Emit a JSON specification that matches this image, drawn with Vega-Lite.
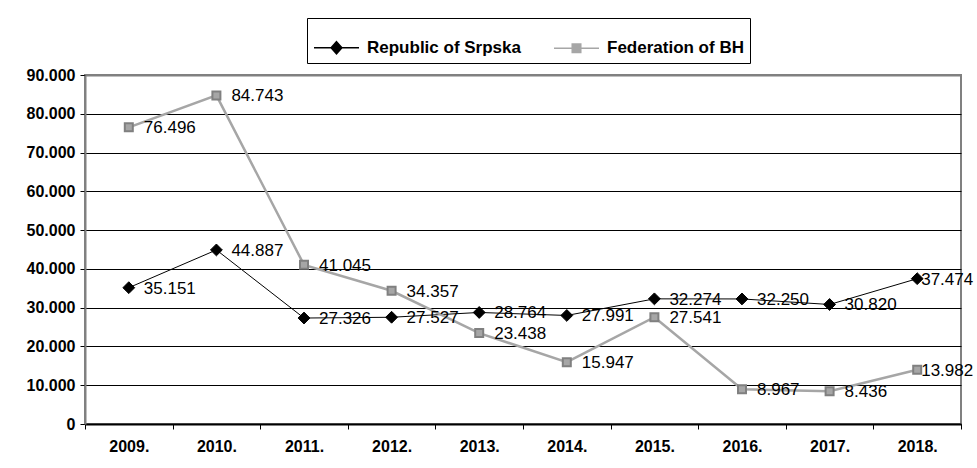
{
  "$schema": "https://vega.github.io/schema/vega-lite/v6.json",
  "width": 876,
  "height": 349,
  "autosize": "none",
  "padding": {"left": 85, "top": 75, "right": 16, "bottom": 44},
  "background": "white",
  "config": {
    "locale": {"number": {"decimal": ",", "thousands": ".", "grouping": [3], "currency": ["", ""]}},
    "font": "Liberation Sans",
    "view": {"stroke": "#808080", "strokeWidth": 2}
  },
  "data": {
    "values": [
      {"year": "2009.", "series": "Republic of Srpska", "value": 35151},
      {"year": "2010.", "series": "Republic of Srpska", "value": 44887},
      {"year": "2011.", "series": "Republic of Srpska", "value": 27326},
      {"year": "2012.", "series": "Republic of Srpska", "value": 27527},
      {"year": "2013.", "series": "Republic of Srpska", "value": 28764},
      {"year": "2014.", "series": "Republic of Srpska", "value": 27991},
      {"year": "2015.", "series": "Republic of Srpska", "value": 32274},
      {"year": "2016.", "series": "Republic of Srpska", "value": 32250},
      {"year": "2017.", "series": "Republic of Srpska", "value": 30820},
      {"year": "2018.", "series": "Republic of Srpska", "value": 37474},
      {"year": "2009.", "series": "Federation of BH", "value": 76496},
      {"year": "2010.", "series": "Federation of BH", "value": 84743},
      {"year": "2011.", "series": "Federation of BH", "value": 41045},
      {"year": "2012.", "series": "Federation of BH", "value": 34357},
      {"year": "2013.", "series": "Federation of BH", "value": 23438},
      {"year": "2014.", "series": "Federation of BH", "value": 15947},
      {"year": "2015.", "series": "Federation of BH", "value": 27541},
      {"year": "2016.", "series": "Federation of BH", "value": 8967},
      {"year": "2017.", "series": "Federation of BH", "value": 8436},
      {"year": "2018.", "series": "Federation of BH", "value": 13982}
    ]
  },
  "encoding": {
    "x": {
      "field": "year", "type": "ordinal", "bandPosition": 0.5,
      "scale": {"type": "band", "paddingInner": 0, "paddingOuter": 0},
      "axis": {
        "title": null, "labelAngle": 0, "tickBand": "extent",
        "domainColor": "#000", "domainWidth": 2, "tickColor": "#000", "tickSize": 5,
        "labelFont": "Liberation Sans", "labelFontSize": 16, "labelFontWeight": "bold",
        "labelColor": "#000", "labelPadding": 9
      }
    },
    "y": {
      "field": "value", "type": "quantitative",
      "scale": {"domain": [0, 90000], "nice": false},
      "axis": {
        "title": null, "format": ",.0f", "values": [0, 10000, 20000, 30000, 40000, 50000, 60000, 70000, 80000, 90000],
        "grid": true,
        "gridColor": {"condition": {"test": "datum.value == 90000", "value": "#808080"}, "value": "#000000"},
        "gridWidth": {"condition": {"test": "datum.value == 90000", "value": 2}, "value": 1},
        "domainColor": "#808080", "domainWidth": 2, "tickColor": "#000", "tickSize": 5,
        "labelFont": "Liberation Sans", "labelFontSize": 16, "labelFontWeight": "bold",
        "labelColor": "#000", "labelPadding": 5
      }
    }
  },
  "layer": [
    {
      "mark": {"type": "line", "strokeWidth": {"expr": "datum.series == 'Federation of BH' ? 2.5 : 1"}},
      "encoding": {
        "color": {
          "field": "series", "type": "nominal",
          "scale": {"domain": ["Republic of Srpska", "Federation of BH"], "range": ["#000000", "#a6a6a6"]},
          "legend": {
            "title": null, "orient": "none", "legendX": 222, "legendY": -57,
            "direction": "horizontal",
            "strokeColor": "#000", "fillColor": "#fff", "padding": 6,
            "symbolSize": 2025, "labelFont": "Liberation Sans", "labelFontSize": 17,
            "labelFontWeight": "bold", "labelColor": "#000", "labelOffset": 7, "columnPadding": 30,
            "encode": {
              "symbols": {
                "update": {
                  "shape": {"signal": "datum.value == 'Republic of Srpska' ? 'M-1,0L-0.24,0M0.24,0L1,0M0,-0.27L0.24,0L0,0.27L-0.24,0Z' : 'M-1,0L-0.19,0M0.19,0L1,0M-0.19,-0.19L0.19,-0.19L0.19,0.19L-0.19,0.19Z'"},
                  "fill": {"signal": "datum.value == 'Republic of Srpska' ? '#000000' : '#a6a6a6'"},
                  "stroke": {"signal": "datum.value == 'Republic of Srpska' ? '#00008b' : '#a6a6a6'"},
                  "strokeWidth": {"value": 1.5},
                  "opacity": {"value": 1},
                  "fillOpacity": {"value": 1},
                  "strokeOpacity": {"value": 1}
                }
              }
            }
          }
        }
      }
    },
    {
      "transform": [{"filter": "datum.series == 'Federation of BH'"}],
      "mark": {"type": "point", "shape": "square", "size": 64, "filled": true, "fill": "#a6a6a6", "stroke": "#808080", "strokeWidth": 2, "opacity": 1}
    },
    {
      "transform": [{"filter": "datum.series == 'Republic of Srpska'"}],
      "mark": {"type": "point", "shape": "diamond", "size": 140, "filled": true, "fill": "#000000", "stroke": "#000000", "strokeWidth": 1, "opacity": 1}
    },
    {
      "mark": {"type": "text", "align": "left", "baseline": "middle", "dx": {"expr": "datum.year == '2018.' ? 4 : 15"}, "dy": 1, "fontSize": 17, "font": "Liberation Sans", "color": "#000"},
      "encoding": {
        "text": {"field": "value", "type": "quantitative", "format": ","}
      }
    }
  ]
}
